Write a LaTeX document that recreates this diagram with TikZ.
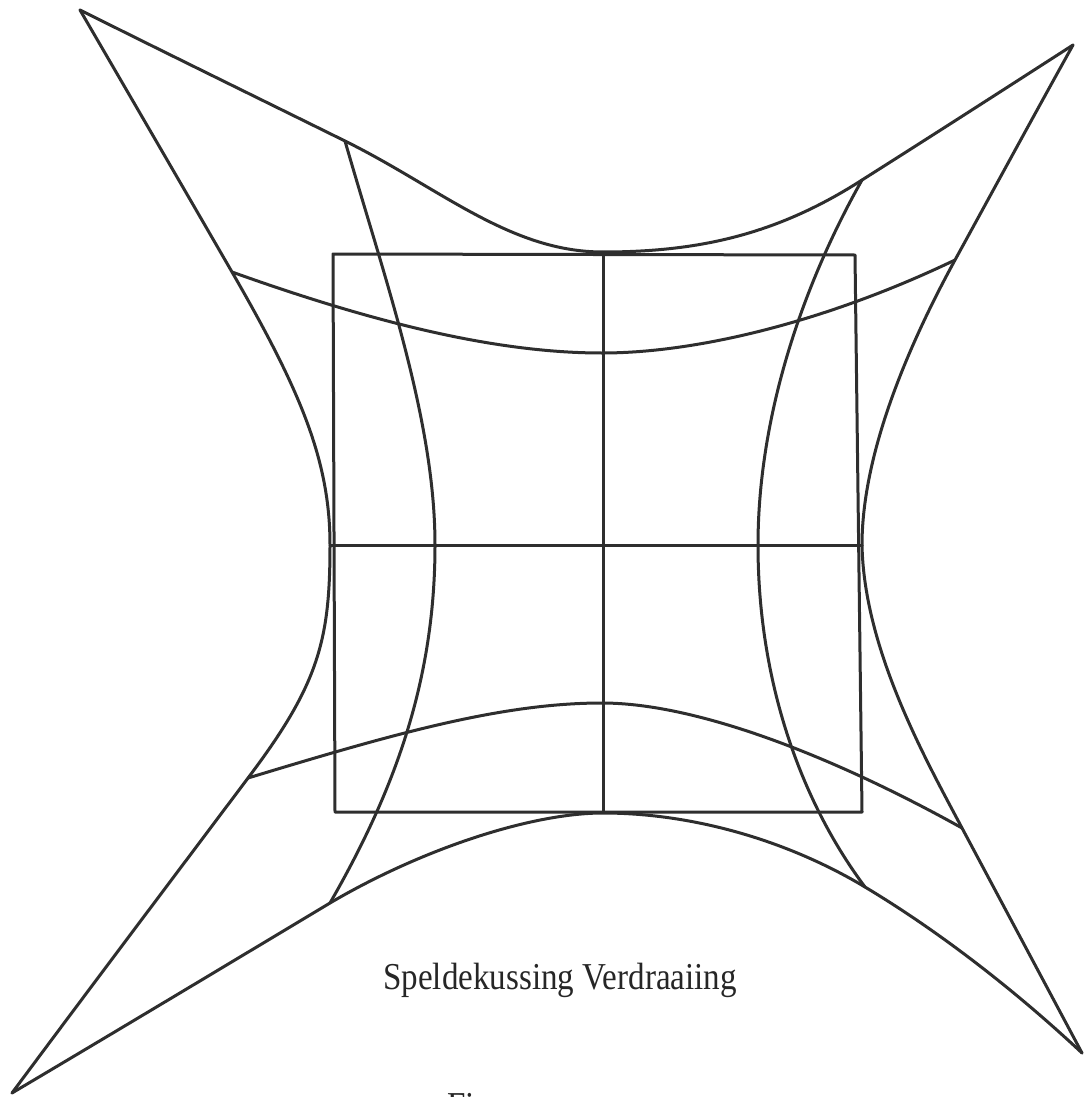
\documentclass[tikz,border=0pt]{standalone}
\usepackage{fontspec}
\setmainfont{Liberation Serif}
\begin{document}
\begin{tikzpicture}[x=0.5pt,y=-0.5pt,
  ln/.style={line width=1.5pt, draw=black!82, line join=round, line cap=round},
  lbl/.style={font=\fontsize{19}{22}\selectfont, text=black!85, inner sep=0pt}]
\useasboundingbox (0,0) rectangle (1084,1097);
% tips
\coordinate (TL) at (80,10);
\coordinate (TR) at (1073,45);
\coordinate (BL) at (12,1093);
\coordinate (BR) at (1082,1053);
% junctions of the outer boundary
\coordinate (T1) at (345,141);
\coordinate (T2) at (603,252);
\coordinate (T3) at (862,180);
\coordinate (L1) at (232,272);
\coordinate (L2) at (330,545);
\coordinate (L3) at (248,778);
\coordinate (R1) at (955,260);
\coordinate (R2) at (862,545);
\coordinate (R3) at (962,828);
\coordinate (B1) at (330,903);
\coordinate (B2) at (603,813);
\coordinate (B3) at (865,887);
% outer boundary
\draw[ln] (TL) .. controls (170,55) and (260,99) .. (T1)
  .. controls (440,188) and (510,252) .. (T2)
  .. controls (700,252) and (778,234) .. (T3)
  .. controls (930,137) and (1000,92) .. (TR);
\draw[ln] (TL) .. controls (130,96) and (180,182) .. (L1)
  .. controls (300,390) and (330,460) .. (L2)
  .. controls (330,640) and (319,684) .. (L3)
  .. controls (170,882) and (90,988) .. (BL);
\draw[ln] (TR) .. controls (1033,117) and (995,187) .. (R1)
  .. controls (902,357) and (862,460) .. (R2)
  .. controls (864,650) and (926,760) .. (R3)
  .. controls (1002,903) and (1042,978) .. (BR);
\draw[ln] (BL) .. controls (120,1029) and (225,966) .. (B1)
  .. controls (420,850) and (530,813) .. (B2)
  .. controls (690,813) and (785,839) .. (B3)
  .. controls (945,935) and (1020,995) .. (BR);
% square
\draw[ln] (333,254) -- (855,255) -- (862,812) -- (335,812) -- cycle;
\draw[ln] (T2) -- (B2 |- 0,812);
\draw[ln] (L2) -- (R2);
% inner horizontal curves
\draw[ln] (L1) .. controls (380,325) and (500,353) .. (602,353)
  .. controls (700,353) and (830,320) .. (R1);
\draw[ln] (L3) .. controls (390,735) and (500,703) .. (602,703)
  .. controls (700,703) and (840,760) .. (R3);
% inner vertical curves
\draw[ln] (T1) .. controls (385,280) and (435,420) .. (435,545)
  .. controls (435,680) and (395,790) .. (B1);
\draw[ln] (T3) .. controls (800,290) and (758,420) .. (758,545)
  .. controls (758,680) and (800,800) .. (B3);
% labels
\node[lbl, anchor=base west, xscale=0.87] (cap) at (383,989) {Speldekussing Verdraaiing};
\node[lbl, anchor=base west, xscale=0.87] (fig) at (447,1118) {Fig.};
\end{tikzpicture}
\end{document}
